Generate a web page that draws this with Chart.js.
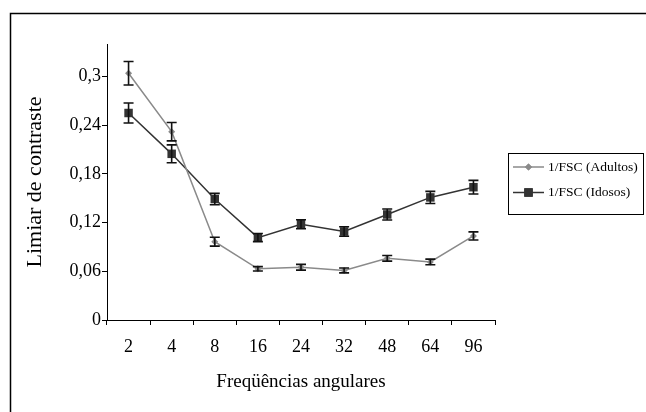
<!DOCTYPE html>
<html>
<head>
<meta charset="utf-8">
<script src="https://cdn.jsdelivr.net/npm/chart.js@4.4.1/dist/chart.umd.min.js"></script>
<style>
  html, body { margin: 0; padding: 0; background: #fff; }
</style>
</head>
<body>
<canvas id="chart" width="646" height="412"></canvas>
<script>
const frequencies = ['2', '4', '8', '16', '24', '32', '48', '64', '96'];
const adultos = [0.304, 0.232, 0.0965, 0.063, 0.065, 0.061, 0.076, 0.0715, 0.1035];
const adultosErr = [0.0145, 0.0113, 0.0055, 0.0027, 0.0035, 0.003, 0.0035, 0.0035, 0.005];
const idosos = [0.255, 0.2047, 0.149, 0.1015, 0.118, 0.109, 0.130, 0.151, 0.1636];
const idososErr = [0.0123, 0.011, 0.007, 0.005, 0.0055, 0.0058, 0.0068, 0.0075, 0.0084];
const yTicks = [0, 0.06, 0.12, 0.18, 0.24, 0.3];

const seriesNames = ['1/FSC (Adultos)', '1/FSC (Idosos)'];
const errors = [adultosErr, idososErr];

Chart.defaults.font.family = "'Liberation Serif', 'Times New Roman', serif";
Chart.defaults.color = '#000';

// outer frame, only left and top edges show in the picture
const framePlugin = {
    id: 'frame',
    beforeDraw(chart) {
        const ctx = chart.ctx;
        ctx.save();
        ctx.strokeStyle = '#000';
        ctx.lineWidth = 1.5;
        ctx.beginPath();
        ctx.moveTo(10.5, 412);
        ctx.lineTo(10.5, 13.5);
        ctx.lineTo(646, 13.5);
        ctx.stroke();
        ctx.restore();
    }
};

// error bars from the scales
const errorBarPlugin = {
    id: 'errorBars',
    afterDatasetsDraw(chart) {
        const ctx = chart.ctx;
        const yScale = chart.scales.y;
        ctx.save();
        ctx.strokeStyle = '#111';
        ctx.lineWidth = 1.6;
        chart.data.datasets.forEach((ds, i) => {
            const meta = chart.getDatasetMeta(i);
            meta.data.forEach((pt, j) => {
                const v = ds.data[j];
                const e = errors[i][j];
                const top = yScale.getPixelForValue(v + e);
                const bot = yScale.getPixelForValue(v - e);
                const x = pt.x;
                ctx.beginPath();
                ctx.moveTo(x, top); ctx.lineTo(x, bot);
                ctx.moveTo(x - 5, top); ctx.lineTo(x + 5, top);
                ctx.moveTo(x - 5, bot); ctx.lineTo(x + 5, bot);
                ctx.stroke();
            });
        });
        ctx.restore();
    }
};

// boxed legend on the right
const legendPlugin = {
    id: 'boxLegend',
    afterDraw(chart) {
        const ctx = chart.ctx;
        const bx = 508, by = 153, bw = 135, bh = 61;
        ctx.save();
        ctx.strokeStyle = '#000';
        ctx.lineWidth = 1;
        ctx.strokeRect(bx + 0.5, by + 0.5, bw, bh);
        chart.data.datasets.forEach((ds, i) => {
            const y = by + 14 + i * 25.5;
            ctx.strokeStyle = ds.borderColor;
            ctx.lineWidth = 1.5;
            ctx.beginPath();
            ctx.moveTo(513, y); ctx.lineTo(544, y);
            ctx.stroke();
            ctx.fillStyle = ds.pointBackgroundColor;
            Chart.helpers.drawPoint(ctx, {
                pointStyle: ds.pointStyle, radius: ds.pointRadius, borderWidth: 0
            }, 528.5, y);
            ctx.fill();
            ctx.fillStyle = '#000';
            ctx.font = "13.5px 'Liberation Serif'";
            ctx.textBaseline = 'middle';
            ctx.fillText(seriesNames[i], 548, y);
        });
        ctx.restore();
    }
};

new Chart(document.getElementById('chart'), {
    type: 'line',
    data: {
        labels: frequencies,
        datasets: [{
            label: seriesNames[0],
            data: adultos,
            borderColor: '#8a8a8a',
            borderWidth: 1.5,
            pointStyle: 'rectRot',
            pointRadius: 3.5,
            pointBackgroundColor: '#8a8a8a',
            pointBorderWidth: 0,
            tension: 0
        }, {
            label: seriesNames[1],
            data: idosos,
            borderColor: '#333',
            borderWidth: 1.5,
            pointStyle: 'rect',
            pointRadius: 6,
            pointBackgroundColor: '#333',
            pointBorderWidth: 0,
            tension: 0
        }]
    },
    options: {
        responsive: false,
        animation: false,
        devicePixelRatio: 1,
        layout: { padding: { left: 0, top: 44, right: 151, bottom: 0 } },
        plugins: { legend: { display: false }, tooltip: { enabled: false } },
        scales: {
            x: {
                offset: true,
                grid: { offset: true, drawOnChartArea: false, tickLength: 5, color: '#000', tickWidth: 1 },
                border: { color: '#000', width: 1 },
                ticks: { font: { size: 18 }, padding: 11 },
                title: { display: true, text: 'Freqüências angulares', font: { size: 19 }, padding: { top: 0, bottom: 19 } },
                afterFit(scale) { scale.height = 92; }
            },
            y: {
                min: 0,
                max: 0.34,
                grid: { drawOnChartArea: false, tickLength: 5, color: '#000', tickWidth: 1 },
                border: { color: '#000', width: 1 },
                afterBuildTicks(scale) { scale.ticks = yTicks.map(v => ({ value: v })); },
                ticks: {
                    font: { size: 18 },
                    padding: 1,
                    callback: v => String(+v.toFixed(2)).replace('.', ',')
                },
                title: { display: true, text: 'Limiar de contraste', font: { size: 22 }, padding: { top: 22, bottom: 0 } },
                afterFit(scale) { scale.width = 107; }
            }
        }
    },
    plugins: [framePlugin, errorBarPlugin, legendPlugin]
});
</script>
</body>
</html>
